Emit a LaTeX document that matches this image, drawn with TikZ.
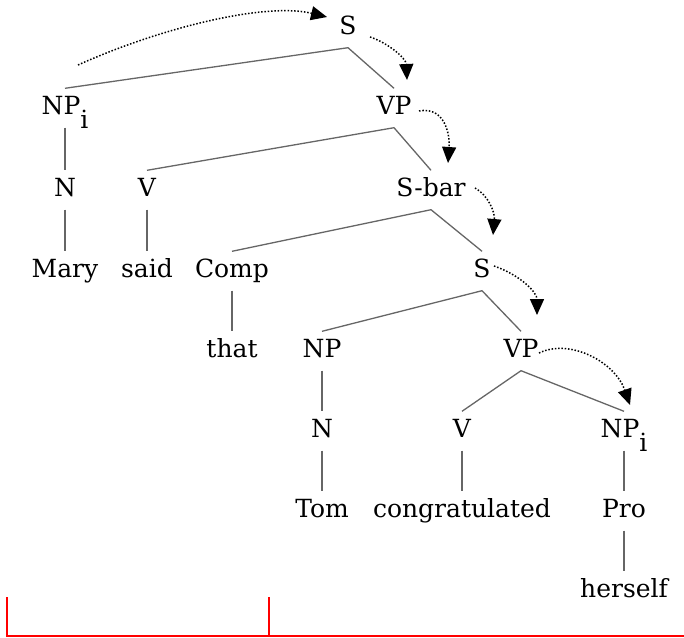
\documentclass[tikz,border=0pt]{standalone}
\usepackage{fontspec}
\setmainfont{DejaVu Serif}
\usetikzlibrary{arrows.meta}
\newcommand{\idx}[1]{\raisebox{-14pt}{#1}}
\begin{document}
\begin{tikzpicture}[x=1pt, y=-1pt, font=\fontsize{25}{28}\selectfont,
	cat/.style={inner sep=4pt, text height=22pt, text depth=9pt},
	branch/.style={draw=black!60, line width=1.3pt},
	trace/.style={dash pattern=on 1.5pt off 1.8pt, line width=1.5pt, -{Triangle[length=16pt, width=14pt]}}]
	\useasboundingbox (0,0) rectangle (684,637);
	% categories, row by row
	\node[cat] (s) at (348,28) {S};
	\node[cat] (npi) at (65,108) {NP\idx{i}};
	\node[cat] (vp) at (394,108) {VP};
	\node[cat] (n) at (65,190) {N};
	\node[cat] (v) at (147,190) {V};
	\node[cat] (sbar) at (431,190) {S-bar};
	\node[cat] (mary) at (65,271) {Mary};
	\node[cat] (said) at (147,271) {said};
	\node[cat] (comp) at (232,271) {Comp};
	\node[cat] (s2) at (482,271) {S};
	\node[cat] (that) at (232,351) {that};
	\node[cat] (np) at (322,351) {NP};
	\node[cat] (vp2) at (521,351) {VP};
	\node[cat] (n2) at (322,431) {N};
	\node[cat] (v2) at (462,431) {V};
	\node[cat] (npj) at (624,431) {NP\idx{i}};
	\node[cat] (tom) at (322,511) {Tom};
	\node[cat] (congr) at (462,511) {congratulated};
	\node[cat] (pro) at (624,511) {Pro};
	\node[cat] (herself) at (624,591) {herself};
	% branches
	\draw[branch] (npi.north) -- (s.south) -- (vp.north);
	\draw[branch] (npi) -- (n) -- (mary);
	\draw[branch] (v.north) -- (vp.south) -- (sbar.north);
	\draw[branch] (v) -- (said);
	\draw[branch] (comp.north) -- (sbar.south) -- (s2.north);
	\draw[branch] (comp) -- (that);
	\draw[branch] (np.north) -- (s2.south) -- (vp2.north);
	\draw[branch] (np) -- (n2) -- (tom);
	\draw[branch] (v2.north) -- (vp2.south) -- (npj.north);
	\draw[branch] (v2) -- (congr);
	\draw[branch] (npj) -- (pro) -- (herself);
	% movement path
	\draw[trace] ([shift={(13,-43)}]npi.center) .. controls (160,28) and (265,2) .. ([shift={(-21,-11)}]s.center);
	\draw[trace] ([shift={(22,9)}]s.center) .. controls (388,43) and (406,58) .. ([shift={(13,-28)}]vp.center);
	\draw[trace] ([shift={(25,3)}]vp.center) .. controls (445,106) and (450,135) .. ([shift={(17,-27)}]sbar.center);
	\draw[trace] ([shift={(44,-2)}]sbar.center) .. controls (488,195) and (495,212) .. ([shift={(11,-36)}]s2.center);
	\draw[trace] ([shift={(12,-5)}]s2.center) .. controls (520,275) and (537,292) .. ([shift={(16,-36)}]vp2.center);
	\draw[trace] ([shift={(18,2)}]vp2.center) .. controls (570,338) and (615,362) .. ([shift={(6,-26)}]npj.center);
	% brackets
	\draw[red, line width=1.5pt] (7,597) -- (7,636) -- (684,636);
	\draw[red, line width=1.5pt] (269,597) -- (269,636);
\end{tikzpicture}
\end{document}
